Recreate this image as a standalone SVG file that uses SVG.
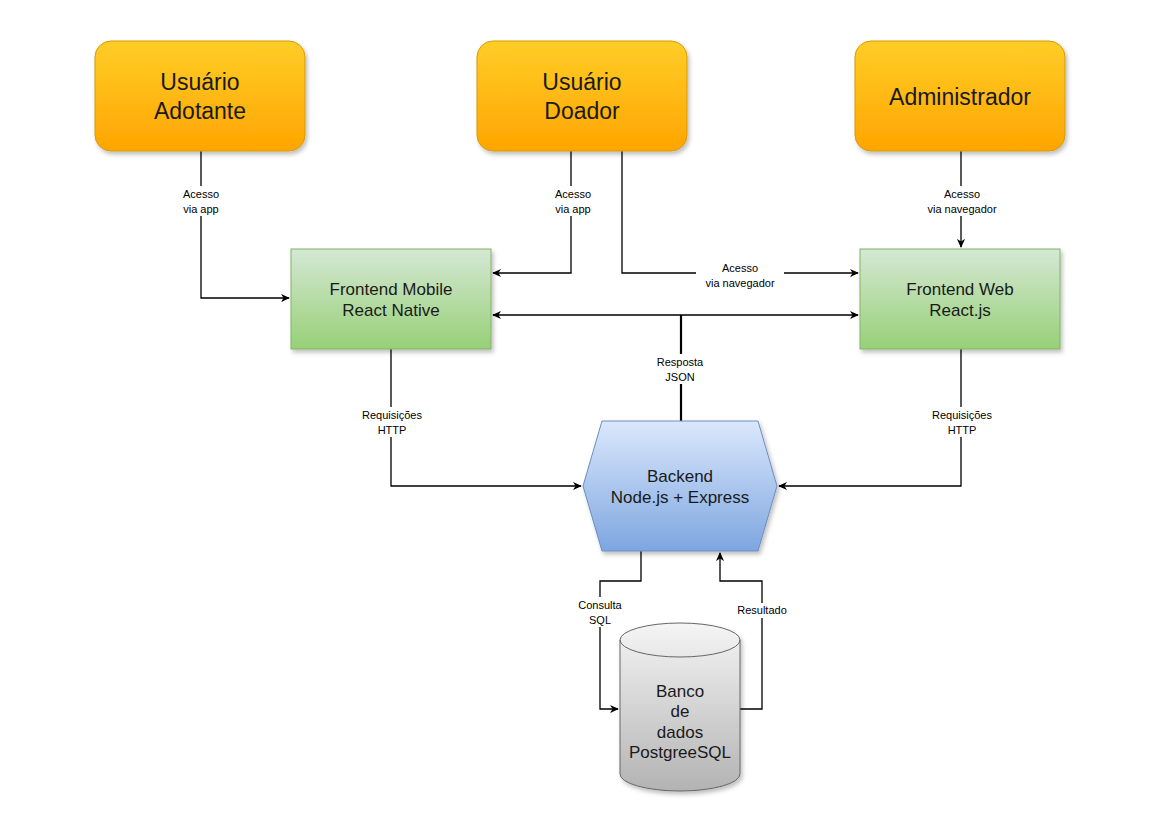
<svg xmlns="http://www.w3.org/2000/svg" width="1171" height="829" viewBox="0 0 1171 829">
<defs>
<linearGradient id="gOrange" x1="0" y1="0" x2="0" y2="1"><stop offset="0" stop-color="#ffcd28"/><stop offset="1" stop-color="#ffa500"/></linearGradient>
<linearGradient id="gGreen" x1="0" y1="0" x2="0" y2="1"><stop offset="0" stop-color="#d5e8d4"/><stop offset="1" stop-color="#97d077"/></linearGradient>
<linearGradient id="gBlue" x1="0" y1="0" x2="0" y2="1"><stop offset="0" stop-color="#dae8fc"/><stop offset="1" stop-color="#7ea6e0"/></linearGradient>
<linearGradient id="gGray" x1="0" y1="0" x2="0" y2="1"><stop offset="0" stop-color="#f5f5f5"/><stop offset="1" stop-color="#b3b3b3"/></linearGradient>
<filter id="shadow" x="-10%" y="-10%" width="130%" height="130%"><feDropShadow dx="2" dy="3" stdDeviation="2" flood-color="#000" flood-opacity="0.25"/></filter>
<marker id="arr" viewBox="0 0 10 10" refX="9" refY="5" markerWidth="9" markerHeight="9" markerUnits="userSpaceOnUse" orient="auto-start-reverse"><path d="M0,0.5 L10,5 L0,9.5 L3,5 Z" fill="#000"/></marker>
</defs>
<style>
.orange{fill:url(#gOrange);stroke:#d79b00;stroke-width:1;filter:url(#shadow)}
.green{fill:url(#gGreen);stroke:#82b366;stroke-width:1;filter:url(#shadow)}
.blue{fill:url(#gBlue);stroke:#6c8ebf;stroke-width:1;filter:url(#shadow)}
.gray{fill:url(#gGray);stroke:#666666;stroke-width:1;filter:url(#shadow)}
text{font-family:"Liberation Sans",Arial,sans-serif;fill:#1a1a1a;text-anchor:middle}
.big{font-size:23px}
.mid{font-size:17px}
.lbl{font-size:11px;fill:#000}
.line{fill:none;stroke:#000;stroke-width:1.3}
.thick{fill:none;stroke:#000;stroke-width:2.2}
.lbg{fill:#fff}
</style>
<rect width="1171" height="829" fill="#fff"/>
<g id="connectors">
<path class="line" d="M201,151 V298 H289" marker-end="url(#arr)"/>
<path class="line" d="M571,151 V273 H493" marker-end="url(#arr)"/>
<path class="line" d="M622,151 V273 H858" marker-end="url(#arr)"/>
<path class="line" d="M961,151 V247" marker-end="url(#arr)"/>
<path class="line" d="M493,315 H858" marker-start="url(#arr)" marker-end="url(#arr)"/>
<path class="thick" d="M681,421 V315"/>
<path class="line" d="M391,349 V486 H581" marker-end="url(#arr)"/>
<path class="line" d="M961,349 V486 H779" marker-end="url(#arr)"/>
<path class="line" d="M641,551 V581 H600 V709 H618" marker-end="url(#arr)"/>
<path class="line" d="M740,709 H762 V581 H720 V553" marker-end="url(#arr)"/>
<rect class="lbg" x="181" y="186" width="40" height="30"/>
<text class="lbl" x="201" y="198">Acesso</text>
<text class="lbl" x="201" y="213">via app</text>
<rect class="lbg" x="552" y="186" width="40" height="30"/>
<text class="lbl" x="573" y="198">Acesso</text>
<text class="lbl" x="573" y="213">via app</text>
<rect class="lbg" x="696" y="261" width="88" height="30"/>
<text class="lbl" x="740" y="272">Acesso</text>
<text class="lbl" x="740" y="287">via navegador</text>
<rect class="lbg" x="920" y="186" width="84" height="30"/>
<text class="lbl" x="962" y="198">Acesso</text>
<text class="lbl" x="962" y="213">via navegador</text>
<rect class="lbg" x="652" y="354" width="56" height="30"/>
<text class="lbl" x="680" y="366">Resposta</text>
<text class="lbl" x="680" y="381">JSON</text>
<rect class="lbg" x="360" y="407" width="64" height="30"/>
<text class="lbl" x="392" y="419">Requisições</text>
<text class="lbl" x="392" y="434">HTTP</text>
<rect class="lbg" x="930" y="407" width="64" height="30"/>
<text class="lbl" x="962" y="419">Requisições</text>
<text class="lbl" x="962" y="434">HTTP</text>
<rect class="lbg" x="576" y="597" width="48" height="30"/>
<text class="lbl" x="600" y="609">Consulta</text>
<text class="lbl" x="600" y="624">SQL</text>
<rect class="lbg" x="734" y="603" width="56" height="15"/>
<text class="lbl" x="762" y="614">Resultado</text>
</g>
<g id="usuario-adotante">
<rect class="orange" x="95" y="41" width="210" height="110" rx="16"/>
<text class="big" x="200" y="90">Usuário</text>
<text class="big" x="200" y="119">Adotante</text>
</g>
<g id="usuario-doador">
<rect class="orange" x="477" y="41" width="210" height="110" rx="16"/>
<text class="big" x="582" y="90">Usuário</text>
<text class="big" x="582" y="119">Doador</text>
</g>
<g id="administrador">
<rect class="orange" x="855" y="41" width="210" height="110" rx="16"/>
<text class="big" x="960" y="105">Administrador</text>
</g>
<g id="frontend-mobile">
<rect class="green" x="291" y="249" width="200" height="100"/>
<text class="mid" x="391" y="295">Frontend Mobile</text>
<text class="mid" x="391" y="316">React Native</text>
</g>
<g id="frontend-web">
<rect class="green" x="860" y="249" width="200" height="100"/>
<text class="mid" x="960" y="295">Frontend Web</text>
<text class="mid" x="960" y="316">React.js</text>
</g>
<g id="backend">
<polygon class="blue" points="602,421 758,421 777,486 758,551 602,551 583,486"/>
<text class="mid" x="680" y="482">Backend</text>
<text class="mid" x="680" y="503">Node.js + Express</text>
</g>
<g id="banco">
<path class="gray" d="M620,640 A60,17 0 0 1 740,640 V774 A60,17 0 0 1 620,774 Z"/>
<path d="M620,640 A60,17 0 0 0 740,640" fill="none" stroke="#666666" stroke-width="1"/>
<text class="mid" x="680" y="697">Banco</text>
<text class="mid" x="680" y="717">de</text>
<text class="mid" x="680" y="738">dados</text>
<text class="mid" x="680" y="758">PostgreeSQL</text>
</g>
</svg>
